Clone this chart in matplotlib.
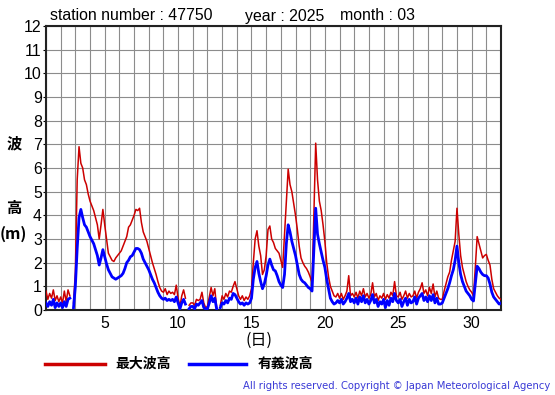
import numpy as np
import matplotlib.pyplot as plt

nan = np.nan

# 3-hourly samples, from day 1 00h to day 32 00h
max_wave = [
    0.8, 0.45, 0.7, 0.5, 0.85, 0.4, 0.6, 0.35,
    0.55, 0.3, 0.8, 0.35, 0.85, 0.6, nan, 0.3,
    1.6, 5.5, 6.9, 6.2, 6.0, 5.5, 5.3, 4.9,
    4.6, 4.4, 4.2, 3.9, 3.6, 3.0, 3.6, 4.25,
    3.6, 3.0, 2.4, 2.25, 2.1, 2.05, 2.2, 2.3,
    2.4, 2.5, 2.7, 2.9, 3.1, 3.5, 3.6, 3.8,
    4.0, 4.25, 4.2, 4.3, 3.7, 3.3, 3.1, 2.9,
    2.6, 2.3, 2.0, 1.75, 1.5, 1.2, 0.95, 0.8,
    0.75, 0.9, 0.65, 0.8, 0.7, 0.75, 0.65, 1.05,
    0.5, 0.15, 0.6, 0.85, 0.5, nan, 0.2, 0.3,
    0.3, 0.2, 0.45, 0.4, 0.45, 0.75, 0.3, 0.1,
    0.15, 0.55, 0.95, 0.6, 0.9, 0.1, nan, 0.2,
    0.6, 0.45, 0.7, 0.55, 0.8, 0.75, 1.0, 1.2,
    0.9, 0.6, 0.45, 0.6, 0.4, 0.55, 0.45, 0.6,
    0.9, 2.0, 3.0, 3.35, 2.7, 2.3, 1.5, 1.7,
    2.3, 3.4, 3.55, 3.0, 2.85, 2.6, 2.5, 2.4,
    2.1, 1.8, 3.2, 4.6, 5.95, 5.3, 5.0, 4.5,
    4.0, 3.4, 2.7, 2.2, 2.0, 1.85, 1.75, 1.6,
    1.4, 1.15, 4.0, 7.05, 5.5, 4.6, 4.2, 3.6,
    2.9, 2.0, 1.4, 1.0, 0.8, 0.6, 0.55, 0.7,
    0.5, 0.7, 0.45, 0.6, 0.8, 1.45, 0.6, 0.7,
    0.55, 0.75, 0.5, 0.8, 0.6, 0.9, 0.55, 0.7,
    0.5, 0.65, 1.15, 0.55, 0.7, 0.4, 0.6, 0.5,
    0.7, 0.45, 0.65, 0.5, 0.75, 0.6, 1.2, 0.6,
    0.55, 0.75, 0.45, 0.6, 0.8, 0.5, 0.7, 0.55,
    0.6, 0.8, 0.5, 0.75, 0.9, 1.15, 0.7, 0.85,
    0.6, 0.95, 0.7, 1.1, 0.55, 0.8, 0.5, 0.45,
    0.45, 0.8, 1.1, 1.4, 1.6, 2.1, 2.5, 2.9,
    4.3, 3.2, 2.3, 1.8, 1.5, 1.2, 1.0, 0.85,
    0.75, 0.6, 1.8, 3.1, 2.8, 2.5, 2.2, 2.3,
    2.35, 2.1, 1.9, 1.3, 0.9, 0.75, 0.6, 0.5,
    0.45,
]

sig_wave = [
    0.3, 0.15, 0.35, 0.2, 0.45, 0.1, 0.3, 0.15,
    0.3, 0.1, 0.35, 0.15, 0.45, 0.5, nan, 0.1,
    1.0, 2.6, 3.9, 4.25, 3.9, 3.6, 3.5, 3.3,
    3.1, 2.95, 2.8, 2.55, 2.3, 1.9, 2.2, 2.55,
    2.25, 1.95, 1.7, 1.55, 1.4, 1.35, 1.3, 1.35,
    1.4, 1.45, 1.55, 1.75, 2.0, 2.1, 2.25, 2.3,
    2.45, 2.6, 2.6, 2.55, 2.4, 2.15, 2.0, 1.85,
    1.7, 1.5, 1.3, 1.15, 0.95, 0.75, 0.6, 0.5,
    0.45, 0.5, 0.4, 0.45, 0.4, 0.45, 0.35, 0.55,
    0.3, 0.05, 0.3, 0.45, 0.25, nan, 0.05, 0.15,
    0.15, 0.05, 0.25, 0.2, 0.3, 0.4, 0.1, 0.05,
    0.05, 0.3, 0.6, 0.35, 0.5, 0.05, nan, 0.1,
    0.3, 0.25, 0.4, 0.3, 0.5, 0.45, 0.7, 0.65,
    0.5, 0.35, 0.25, 0.3, 0.2, 0.3, 0.25, 0.3,
    0.5, 1.3, 1.8, 2.05, 1.55, 1.2, 0.9, 1.1,
    1.45, 1.9, 2.15, 1.9, 1.7, 1.65, 1.45, 1.2,
    1.05, 0.95, 1.5, 2.8, 3.6, 3.3, 2.9, 2.6,
    2.3, 1.9, 1.5, 1.3, 1.2, 1.15, 1.05, 0.95,
    0.9, 0.8, 2.5, 4.3, 3.2, 2.8, 2.45, 2.1,
    1.8, 1.3, 0.9, 0.5, 0.35, 0.25, 0.3, 0.4,
    0.3, 0.45, 0.25, 0.35, 0.5, 0.7, 0.35, 0.45,
    0.3, 0.5, 0.25, 0.55, 0.35, 0.6, 0.3, 0.45,
    0.25, 0.4, 0.65, 0.3, 0.45, 0.15, 0.35, 0.25,
    0.45, 0.1, 0.4, 0.2, 0.5, 0.35, 0.7, 0.4,
    0.3, 0.45, 0.15, 0.35, 0.5, 0.2, 0.45, 0.3,
    0.35, 0.55, 0.25, 0.5, 0.6, 0.7, 0.4, 0.55,
    0.35, 0.6, 0.4, 0.65, 0.3, 0.5, 0.25, 0.25,
    0.3, 0.5, 0.7, 0.9, 1.15, 1.45, 1.7, 2.1,
    2.7, 2.0, 1.5, 1.2, 1.0, 0.8, 0.7, 0.6,
    0.45, 0.38, 1.1, 1.85, 1.75, 1.6, 1.5, 1.45,
    1.45, 1.35, 1.1, 0.75, 0.55, 0.45, 0.35, 0.25,
    0.3,
]

x_ticks = [5, 10, 15, 20, 25, 30]
y_ticks = list(range(0, 13))

days = 1 + np.arange(len(max_wave)) / 8

W, H = 555, 395
plt.rcParams['font.family'] = ['Liberation Sans', 'DejaVu Sans']
cjk = ['Noto Sans CJK JP', 'DejaVu Sans']

fig = plt.figure(figsize=(W / 100, H / 100), dpi=100)
ax = fig.add_axes([46 / W, 1 - 310 / H, (501 - 46) / W, (310 - 26) / H])

ax.plot(days, max_wave, color='#cc0000', lw=1.1, zorder=3)
ax.plot(days, sig_wave, color='#0000ff', lw=2.0, zorder=4)

ax.set_xlim(1, 32)
ax.set_ylim(0, 12)
ax.set_xticks(range(1, 33), minor=True)
ax.set_xticks(x_ticks)
ax.set_yticks(y_ticks)
ax.grid(which='both', color='#8c8c8c', lw=0.8)
ax.set_axisbelow(True)
ax.tick_params(axis='x', which='both', length=0, labelsize=11.4, pad=4)
ax.tick_params(axis='y', length=2, labelsize=11.4, pad=1)
for s in ax.spines.values():
    s.set_color('#222222')
    s.set_linewidth(1.5)

def ftext(x, y, s, **kw):
    fig.text(x / W, 1 - y / H, s, **kw)

ftext(50, 16, 'station number : 47750', fontsize=11.4, va='center')
ftext(245, 16, 'year : 2025', fontsize=11.4, va='center')
ftext(340, 16, 'month : 03', fontsize=11.4, va='center')

ftext(14, 143, '波', family=cjk, fontsize=11, weight='bold', ha='center', va='center')
ftext(14, 208, '高', family=cjk, fontsize=11, weight='bold', ha='center', va='center')
ftext(13, 234, '(m)', family=cjk, fontsize=11.5, weight='bold', ha='center', va='center')
ftext(259, 340, '(日)', family=cjk, fontsize=11.5, ha='center', va='center')

# legend
fig.add_artist(plt.Line2D([45 / W, 105 / W], [1 - 364 / H] * 2, color='#cc0000', lw=2.5))
ftext(115, 364, '最大波高', family=cjk, fontsize=10, weight='bold', va='center')
fig.add_artist(plt.Line2D([189 / W, 246 / W], [1 - 364 / H] * 2, color='#0000ff', lw=2.5))
ftext(258, 364, '有義波高', family=cjk, fontsize=10, weight='bold', va='center')

ftext(550, 386, 'All rights reserved. Copyright © Japan Meteorological Agency',
      family='DejaVu Sans', fontsize=7.2, color='#3a3ad6', ha='right', va='center')

fig.savefig('out.png', dpi=100)
